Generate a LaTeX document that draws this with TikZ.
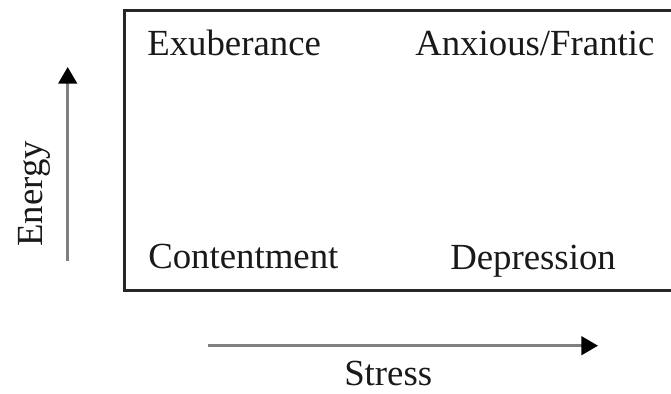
\documentclass[tikz,border=0pt]{standalone}
\usepackage{fontspec}
\setmainfont{Liberation Serif}
\usetikzlibrary{arrows.meta}
\begin{document}
\begin{tikzpicture}[x=0.75pt,y=-0.75pt,
  label/.style={inner sep=0pt,font=\fontsize{27.6}{30}\selectfont,text=black!90},
  frame/.style={draw=black!85,line width=1.6pt},
  axis/.style={draw=black!50,line width=1.9pt,
    -{Triangle[length=12.5pt,width=14pt,color=black]}}]
  \useasboundingbox (0,0) rectangle (671,393);
  \clip (0,0) rectangle (671,393);
  \fill[white] (0,0) rectangle (671,393);
  % quadrant frame (runs past the right margin)
  \draw[frame] (124.5,10.5) rectangle (676,290.5);
  % quadrant labels
  \node[label,anchor=base west] (exub) at (147,55) {Exuberance};
  \node[label,anchor=base west] (anx)  at (415,55) {Anxious/Frantic};
  \node[label,anchor=base west] (cont) at (148,268) {Contentment};
  \node[label,anchor=base west] (dep)  at (450,269) {Depression};
  % axes
  \coordinate (eLow)  at (67.7,261);
  \coordinate (eHigh) at (67.7,67);
  \coordinate (sLow)  at (207.7,345.7);
  \coordinate (sHigh) at (598,345.7);
  \draw[axis] (eLow) -- (eHigh);
  \draw[axis] (sLow) -- (sHigh);
  \node[label,anchor=base west,rotate=90] (energy) at (42,247) {Energy};
  \node[label,anchor=base west] (stress) at (344,385) {Stress};
\end{tikzpicture}
\end{document}
